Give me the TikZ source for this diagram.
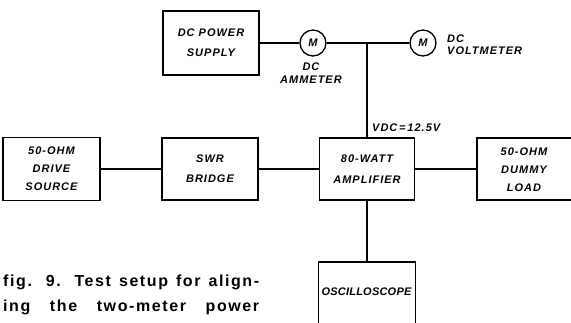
\documentclass[tikz,border=0pt]{standalone}
\usepackage{fontspec}
\newfontfamily\lab{Liberation Sans}[LetterSpace=9]
\newfontfamily\labtight{Liberation Sans}[LetterSpace=2]
\newfontfamily\capfont{Liberation Sans}[LetterSpace=10]
\begin{document}
\begin{tikzpicture}[x=1pt,y=-1pt,
  blk/.style={draw,line width=1.3pt,inner sep=0pt,align=center,
    font=\lab\bfseries\itshape\fontsize{11}{18}\selectfont},
  meter/.style={draw,circle,line width=1.3pt,inner sep=0pt,minimum size=26pt,
    font=\lab\bfseries\itshape\fontsize{11}{12}\selectfont},
  lbl/.style={inner sep=0pt,align=left,font=\lab\bfseries\itshape\fontsize{11}{12.5}\selectfont},
  wire/.style={line width=1.3pt}]
\useasboundingbox (0,0) rectangle (571,323);
\begin{scope}
\clip (0,0) rectangle (571,323);
\node[blk,minimum width=96pt,minimum height=64pt,font=\lab\bfseries\itshape\fontsize{11}{20}\selectfont] (power) at (211,43) {DC POWER\\SUPPLY};
\node[blk,minimum width=97pt,minimum height=63pt] (drive) at (51.5,169) {50-OHM\\DRIVE\\SOURCE};
\node[blk,minimum width=96pt,minimum height=62pt,font=\lab\bfseries\itshape\fontsize{11}{20}\selectfont] (swr) at (210,169) {SWR\\BRIDGE};
\node[blk,minimum width=95pt,minimum height=62pt,font=\lab\bfseries\itshape\fontsize{11}{21}\selectfont] (amp) at (367,169) {80-WATT\\AMPLIFIER};
\node[blk,minimum width=100pt,minimum height=62pt] (load) at (527,169) {};
\node[inner sep=0pt,align=center,font=\lab\bfseries\itshape\fontsize{11}{18}\selectfont] (loadtxt) at (524,170) {50-OHM\\DUMMY\\LOAD};
\node[blk,minimum width=97pt,minimum height=80pt] (osc) at (367,302) {};
\node[inner sep=0pt,font=\labtight\bfseries\itshape\fontsize{11}{12}\selectfont] (osctxt) at (366.5,292) {OSCILLOSCOPE};
\node[meter] (amm) at (313,43) {M};
\node[meter] (volt) at (423,43) {M};
\coordinate (junc) at (367,43);
\node[lbl,align=center] (ammlbl) at (311,73) {DC\\AMMETER};
\node[lbl,anchor=west] (voltlbl) at (447,44.5) {DC\\VOLTMETER};
\node[lbl,anchor=west] (vdc) at (372,128) {VDC\,=\,12.5V};
\draw[wire] (power.east) -- (amm.west);
\draw[wire] (amm.east) -- (junc) -- (volt.west);
\draw[wire] (junc) -- (amp.north);
\draw[wire] (drive.east) -- (swr.west);
\draw[wire] (swr.east) -- (amp.west);
\draw[wire] (amp.east) -- (load.west);
\draw[wire] (amp.south) -- (osc.north);
\node[inner sep=0pt,anchor=west,font=\capfont\bfseries\fontsize{16}{18}\selectfont] (cap1) at (3,282) {\makebox[256pt][s]{fig. 9. Test setup for align-}};
\node[inner sep=0pt,anchor=west,font=\capfont\bfseries\fontsize{16}{18}\selectfont] (cap2) at (3,307) {\makebox[256pt][s]{ing the two-meter power}};
\end{scope}
\end{tikzpicture}
\end{document}
